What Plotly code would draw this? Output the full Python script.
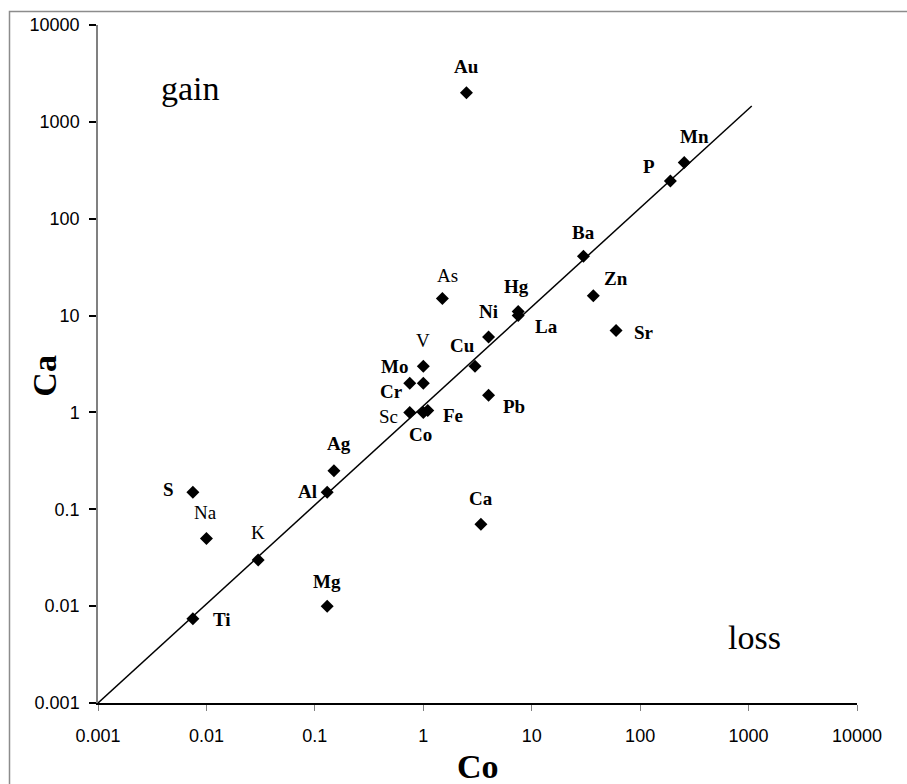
import math
import plotly.graph_objects as go

# Element concentrations: Co (x) vs Ca (y)
elements = ["Au", "Mn", "P", "Ba", "Zn", "Sr", "As", "Hg", "La", "Ni", "Cu",
            "V", "Mo", "Cr", "Sc", "Co", "Fe", "Pb", "Ag", "Al", "Ca", "S",
            "Na", "K", "Ti", "Mg"]
co_vals = [2.5, 255, 190, 30, 37, 60, 1.5, 7.5, 7.5, 4.0, 3.0,
           1.0, 1.0, 0.75, 0.75, 1.0, 1.1, 4.0, 0.15, 0.13, 3.4, 0.0075,
           0.01, 0.03, 0.0075, 0.13]
ca_vals = [2000, 380, 245, 41, 16, 7, 15, 11, 10, 6, 3,
           3, 2, 2, 1.0, 1.0, 1.05, 1.5, 0.25, 0.15, 0.07, 0.15,
           0.05, 0.03, 0.0074, 0.01]

# Label offsets from each marker (pixels, right / up)
label_dx = [0, 10, -21, 0, 23, 28, 5, -2, 28, 0, -13,
            0, -29, -18, -21, -3, 25, 25, 5, -20, 0, -24,
            -1, 0, 29, 0]
label_dy = [26, 26, 15, 24, 17, -2, 23, 25, -11, 26, 21,
            26, 17, -8, -4, -22, -5, -11, 27, 1, 26, 3,
            26, 27, -1, 25]
regular_labels = {"As", "V", "Sc", "Na", "K"}

# Reference line endpoints
line_x = [0.001, 1070]
line_y = [0.001, 1460]

tick_vals = [0.001, 0.01, 0.1, 1, 10, 100, 1000, 10000]
tick_text = ["0.001", "0.01", "0.1", "1", "10", "100", "1000", "10000"]

serif = "Liberation Serif"
sans = "Liberation Sans"

fig = go.Figure()
fig.add_trace(go.Scatter(x=line_x, y=line_y, mode="lines",
                         line=dict(color="black", width=1.5),
                         hoverinfo="skip", showlegend=False))
fig.add_trace(go.Scatter(x=co_vals, y=ca_vals, mode="markers", text=elements,
                         marker=dict(symbol="diamond", size=10, color="black"),
                         showlegend=False))

annotations = []
for name, xv, yv, dx, dy in zip(elements, co_vals, ca_vals, label_dx, label_dy):
    txt = name if name in regular_labels else f"<b>{name}</b>"
    annotations.append(dict(x=math.log10(xv), y=math.log10(yv), xref="x", yref="y",
                            text=txt, showarrow=False, xshift=dx, yshift=dy,
                            font=dict(family=serif, size=19, color="black")))

annotations += [
    dict(x=math.log10(0.0071), y=math.log10(2200), xref="x", yref="y", text="gain",
         showarrow=False, xanchor="center", yanchor="middle",
         font=dict(family=serif, size=34, color="black")),
    dict(x=math.log10(1143), y=math.log10(0.0047), xref="x", yref="y", text="loss",
         showarrow=False, xanchor="center", yanchor="middle",
         font=dict(family=serif, size=34, color="black")),
    dict(x=0.5, y=-0.093, xref="paper", yref="paper", text="<b>Co</b>",
         showarrow=False, xanchor="center", yanchor="middle",
         font=dict(family=serif, size=34, color="black")),
    dict(x=-0.071, y=0.483, xref="paper", yref="paper", text="<b>Ca</b>",
         showarrow=False, textangle=-90, xanchor="center", yanchor="middle",
         font=dict(family=serif, size=34, color="black")),
]

# Outer frame of the chart area
pw, ph = 759, 678
ml, mt = 98, 25
def px_to_paper_x(p):
    return (p - ml) / pw
def px_to_paper_y(p):
    return 1 - (p - mt) / ph

fig.update_layout(
    width=907, height=784,
    margin=dict(l=ml, r=907 - ml - pw, t=mt, b=784 - mt - ph),
    paper_bgcolor="white", plot_bgcolor="white",
    font=dict(family=sans, color="black"),
    annotations=annotations,
    shapes=[dict(type="rect", xref="paper", yref="paper",
                 x0=px_to_paper_x(9.5), x1=px_to_paper_x(930),
                 y0=px_to_paper_y(800), y1=px_to_paper_y(11.5),
                 line=dict(color="#8c8c8c", width=1.5), layer="below")],
    xaxis=dict(type="log", range=[-3, 4], tickvals=tick_vals, ticktext=tick_text,
               ticks="outside", ticklen=6, tickcolor="#808080", tickwidth=1,
               showline=True, linecolor="black", linewidth=1.5,
               showgrid=False, zeroline=False, ticklabelstandoff=10,
               tickfont=dict(family=sans, size=18, color="black")),
    yaxis=dict(type="log", range=[-3, 4], tickvals=tick_vals, ticktext=tick_text,
               ticks="outside", ticklen=7, tickcolor="black", tickwidth=1.5,
               showline=True, linecolor="#808080", linewidth=1.5,
               showgrid=False, zeroline=False, ticklabelstandoff=6,
               tickfont=dict(family=sans, size=18, color="black")),
)

fig.write_html("out.html")
